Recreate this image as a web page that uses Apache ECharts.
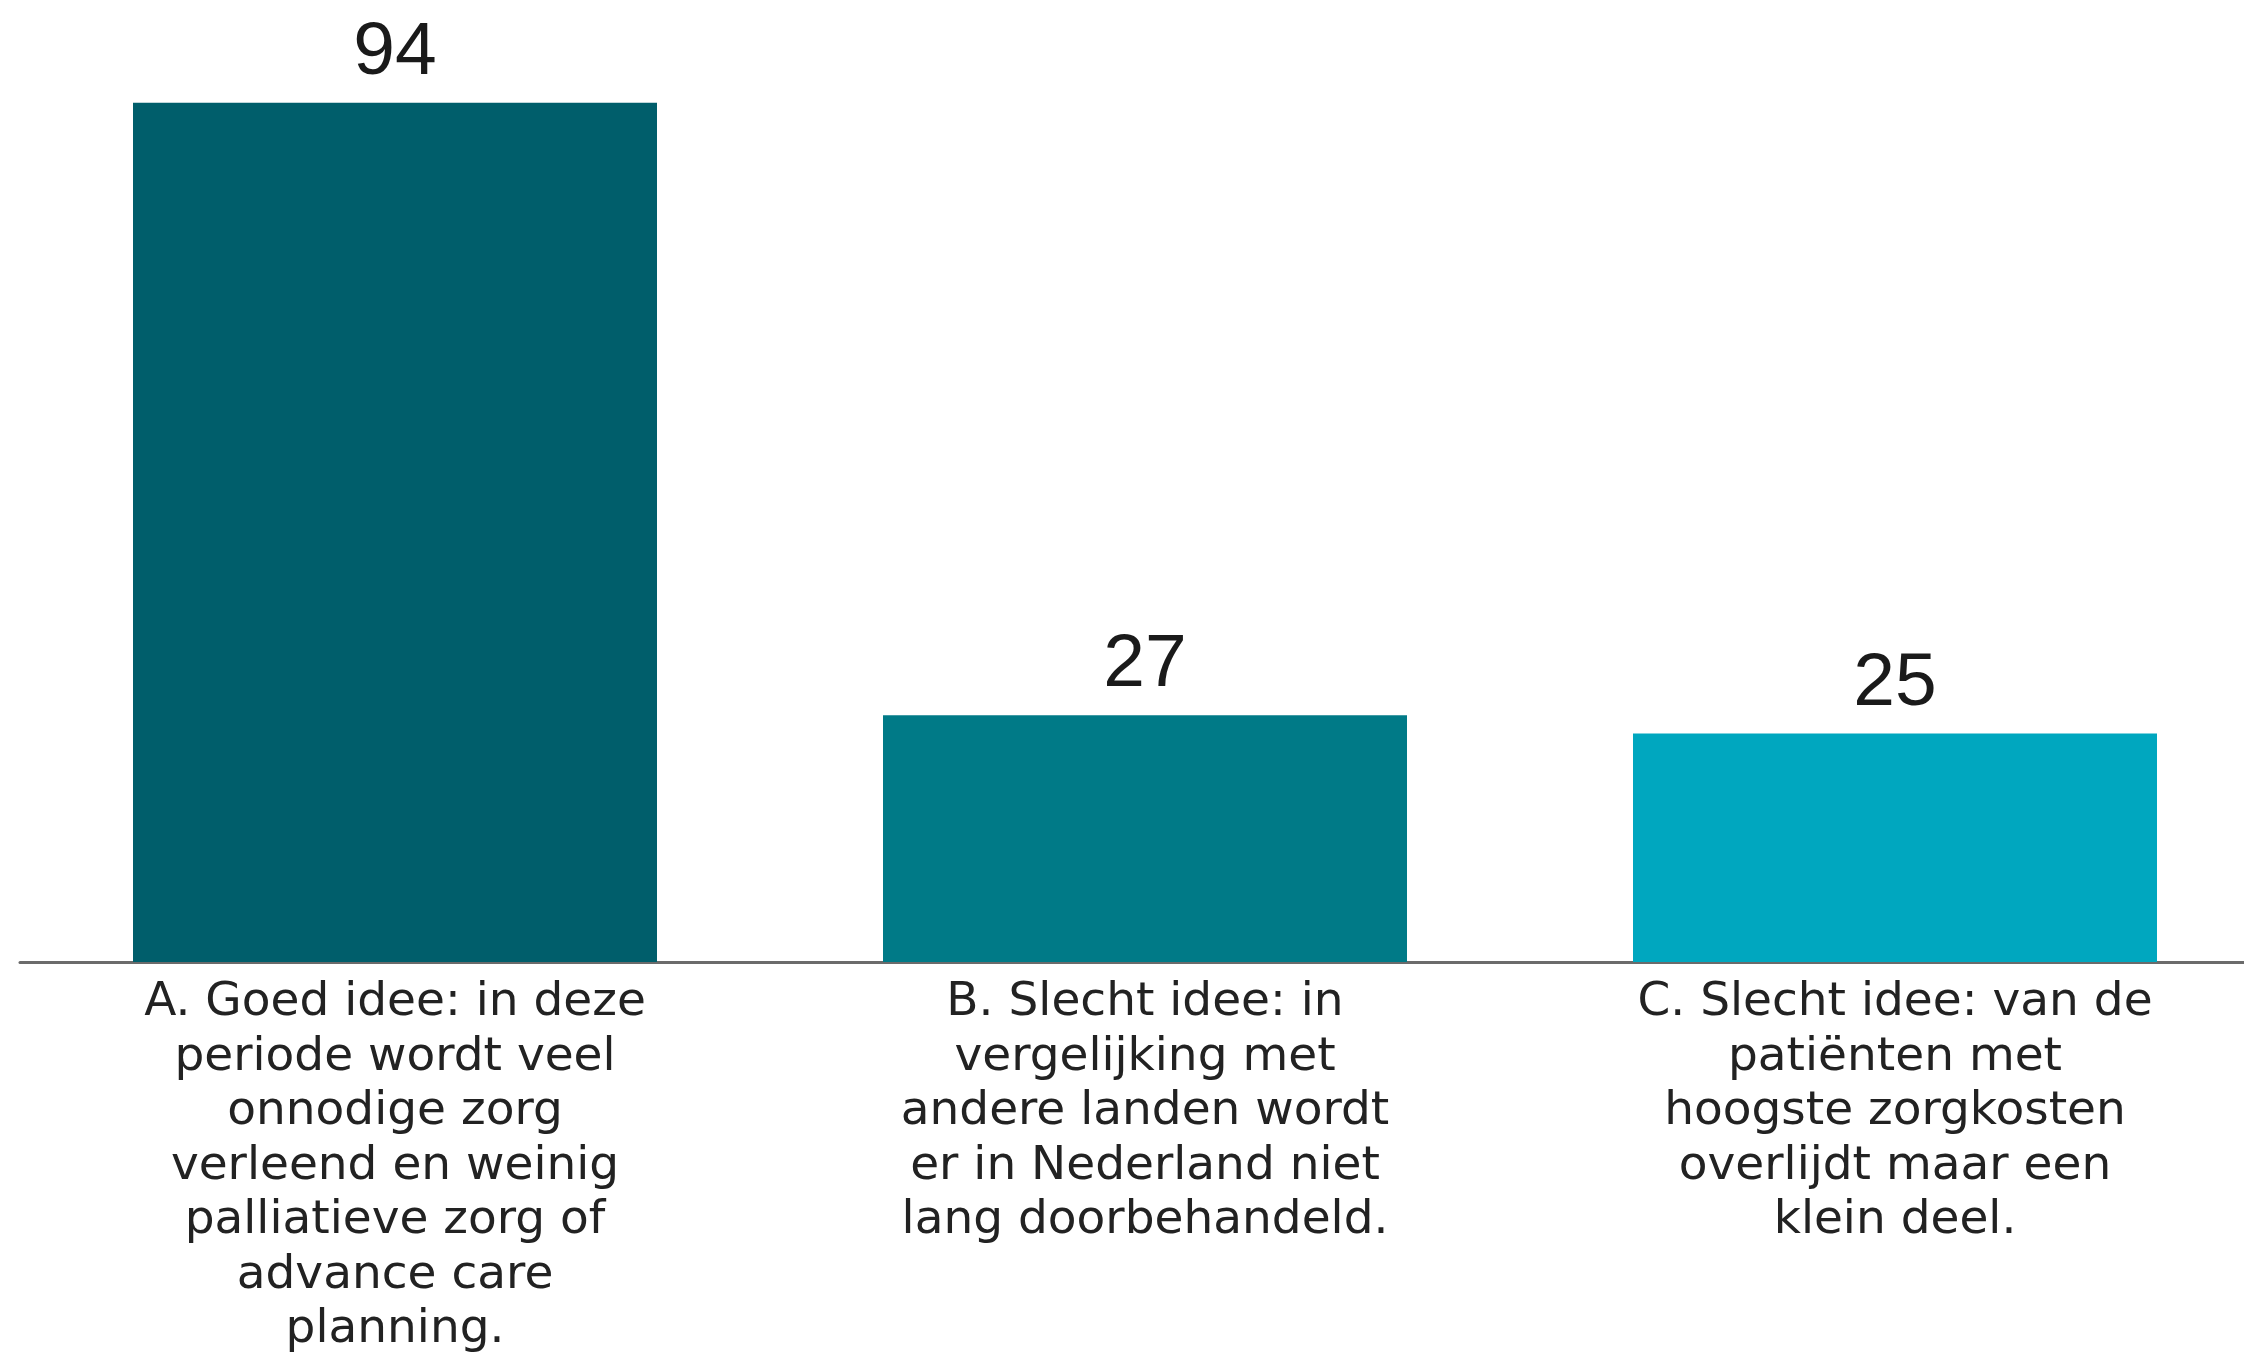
<!DOCTYPE html>
<html>
<head>
<meta charset="utf-8">
<script src="https://cdn.jsdelivr.net/npm/echarts@6/dist/echarts.min.js"></script>
<style>
html,body{margin:0;padding:0;background:#fff;}
#chart{width:2244px;height:1355px;}
</style>
</head>
<body>
<div id="chart"></div>
<script>
const categories = [
  "A. Goed idee: in deze\nperiode wordt veel\nonnodige zorg\nverleend en weinig\npalliatieve zorg of\nadvance care\nplanning.",
  "B. Slecht idee: in\nvergelijking met\nandere landen wordt\ner in Nederland niet\nlang doorbehandeld.",
  "C. Slecht idee: van de\npatiënten met\nhoogste zorgkosten\noverlijdt maar een\nklein deel."
];
const values = [94, 27, 25];
const colors = ["#005E6B", "#007A87", "#00A7BF"];

const chart = echarts.init(document.getElementById('chart'), null, {renderer: 'canvas'});
chart.setOption({
  backgroundColor: '#ffffff',
  animation: false,
  grid: {left: 20, width: 2250, top: 48, bottom: 393, containLabel: false, outerBoundsMode: 'none'},
  xAxis: {
    type: 'category',
    data: categories,
    axisLine: {show: true, lineStyle: {color: '#6b6b6b', width: 3}},
    axisTick: {show: false},
    axisLabel: {
      interval: 0,
      margin: 14,
      color: '#222222',
      fontFamily: 'DejaVu Sans',
      fontSize: 47,
      lineHeight: 54.5,
      align: 'center'
    }
  },
  yAxis: {
    type: 'value',
    min: 0,
    max: 100,
    show: false,
    splitLine: {show: false}
  },
  series: [{
    type: 'bar',
    barWidth: 524,
    data: values.map((v, i) => ({value: v, itemStyle: {color: colors[i]}})),
    label: {
      show: true,
      position: 'top',
      distance: 12,
      color: '#1a1a1a',
      fontFamily: 'Liberation Sans',
      fontSize: 75
    }
  }]
});
</script>
</body>
</html>
